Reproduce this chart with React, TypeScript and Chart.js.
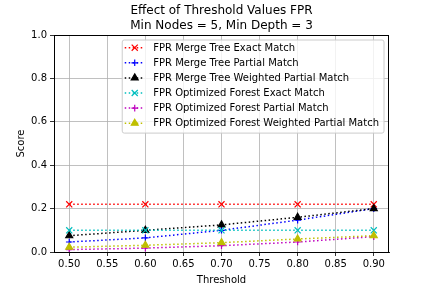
import React, { useEffect, useRef } from "react";
import { Chart, registerables } from "chart.js";
import { drawPoint } from "chart.js/helpers";

Chart.register(...registerables);

const thresholds = [0.5, 0.6, 0.7, 0.8, 0.9];
const mergeExact = [0.22, 0.22, 0.22, 0.22, 0.22];
const mergePartial = [0.046, 0.065, 0.1, 0.147, 0.2];
const mergeWeighted = [0.075, 0.1, 0.125, 0.16, 0.2];
const forestExact = [0.1, 0.1, 0.1, 0.1, 0.1];
const forestPartial = [0.011, 0.018, 0.029, 0.046, 0.071];
const forestWeighted = [0.022, 0.031, 0.043, 0.06, 0.075];

const seriesLabels = [
  "FPR Merge Tree Exact Match",
  "FPR Merge Tree Partial Match",
  "FPR Merge Tree Weighted Partial Match",
  "FPR Optimized Forest Exact Match",
  "FPR Optimized Forest Partial Match",
  "FPR Optimized Forest Weighted Partial Match",
];
const seriesValues = [mergeExact, mergePartial, mergeWeighted, forestExact, forestPartial, forestWeighted];
const seriesColors = ["#ff0000", "#0000ff", "#000000", "#00bfbf", "#bf00bf", "#bfbf00"];
const seriesMarkers = ["crossRot", "cross", "triangle", "crossRot", "cross", "triangle"];

const xTicks = [0.5, 0.55, 0.6, 0.65, 0.7, 0.75, 0.8, 0.85, 0.9];
const yTicks = [0, 0.2, 0.4, 0.6, 0.8, 1.0];
const titleLines = ["Effect of Threshold Values FPR", "Min Nodes = 5, Min Depth = 3"];
const xLabel = "Threshold";
const yLabel = "Score";

const FONT = "'DejaVu Sans', sans-serif";

function markerRadius(style: string) {
  if (style === "crossRot") return 4.3;
  if (style === "cross") return 3.3;
  return 4;
}

const decorPlugin = {
  id: "decor",
  afterDatasetsDraw(chart: any) {
    const { ctx, chartArea } = chart;
    ctx.save();
    ctx.strokeStyle = "#000";
    ctx.lineWidth = 1;
    ctx.strokeRect(chartArea.left + 0.5, chartArea.top + 0.5, chartArea.right - chartArea.left - 1, chartArea.bottom - chartArea.top);
    ctx.restore();
  },
  afterDraw(chart: any) {
    const { ctx, chartArea } = chart;
    const cx = (chartArea.left + chartArea.right) / 2;
    ctx.save();
    // title
    ctx.fillStyle = "#000";
    ctx.textAlign = "center";
    ctx.textBaseline = "alphabetic";
    ctx.font = `12px ${FONT}`;
    ctx.fillText(titleLines[0], cx, 14);
    ctx.fillText(titleLines[1], cx, 29);
    // axis labels
    ctx.font = `10px ${FONT}`;
    ctx.fillText(xLabel, cx, 283);
    ctx.save();
    ctx.translate(24, (chartArea.top + chartArea.bottom) / 2);
    ctx.rotate(-Math.PI / 2);
    ctx.fillText(yLabel, 0, 0);
    ctx.restore();

    // legend
    ctx.font = `10px ${FONT}`;
    let maxW = 0;
    for (const l of seriesLabels) maxW = Math.max(maxW, ctx.measureText(l).width);
    const rowH = 15.1;
    const boxRight = chartArea.right - 5;
    const boxTop = chartArea.top + 5;
    const boxW = maxW + 36;
    const boxLeft = boxRight - boxW;
    const boxH = rowH * 6 + 2.5;
    ctx.beginPath();
    const r = 2;
    ctx.moveTo(boxLeft + r, boxTop);
    ctx.arcTo(boxRight, boxTop, boxRight, boxTop + boxH, r);
    ctx.arcTo(boxRight, boxTop + boxH, boxLeft, boxTop + boxH, r);
    ctx.arcTo(boxLeft, boxTop + boxH, boxLeft, boxTop, r);
    ctx.arcTo(boxLeft, boxTop, boxRight, boxTop, r);
    ctx.closePath();
    ctx.fillStyle = "rgba(255,255,255,0.8)";
    ctx.fill();
    ctx.strokeStyle = "#cccccc";
    ctx.lineWidth = 1;
    ctx.stroke();

    seriesLabels.forEach((label, i) => {
      const y = boxTop + 7.7 + i * rowH;
      const hx0 = boxLeft + 2.5;
      const hx1 = hx0 + 20;
      ctx.save();
      ctx.strokeStyle = seriesColors[i];
      ctx.lineWidth = 1.5;
      ctx.setLineDash([1.5, 2.5]);
      ctx.beginPath();
      ctx.moveTo(hx0, y);
      ctx.lineTo(hx1, y);
      ctx.stroke();
      ctx.setLineDash([]);
      ctx.fillStyle = seriesColors[i];
      ctx.strokeStyle = seriesColors[i];
      ctx.lineWidth = 1.2;
      drawPoint(ctx, { pointStyle: seriesMarkers[i] as any, radius: markerRadius(seriesMarkers[i]), rotation: 0, borderWidth: 1.2 } as any, (hx0 + hx1) / 2, y);
      ctx.restore();
      ctx.fillStyle = "#000";
      ctx.textAlign = "left";
      ctx.textBaseline = "middle";
      ctx.fillText(label, hx1 + 8.5, y + 0.5);
    });
    ctx.restore();
  },
};

export default function App() {
  const ref = useRef<HTMLCanvasElement | null>(null);
  useEffect(() => {
    if (!ref.current) return;
    const datasets = seriesLabels.map((label, i) => ({
      label,
      data: thresholds.map((x, j) => ({ x, y: seriesValues[i][j] })),
      borderColor: seriesColors[i],
      backgroundColor: seriesColors[i],
      borderWidth: 1.5,
      borderDash: [1.5, 2.5],
      pointStyle: seriesMarkers[i],
      pointRadius: markerRadius(seriesMarkers[i]),
      pointBorderWidth: 1.2,
      pointBorderColor: seriesColors[i],
      pointBackgroundColor: seriesColors[i],
      fill: false,
      tension: 0,
      order: -i,
    }));
    const chart = new Chart(ref.current, {
      type: "line",
      data: { datasets },
      options: {
        animation: false,
        responsive: false,
        devicePixelRatio: 1,
        layout: { padding: { top: 35, right: 43, left: 0, bottom: 0 } },
        plugins: { legend: { display: false }, title: { display: false }, tooltip: { enabled: false } },
        scales: {
          x: {
            type: "linear",
            min: 0.48,
            max: 0.92,
            afterBuildTicks: (axis: any) => {
              axis.ticks = xTicks.map((v) => ({ value: v }));
            },
            afterFit: (s: any) => {
              s.height = 36;
            },
            ticks: {
              color: "#000",
              font: { family: FONT, size: 10 },
              padding: 2,
              maxRotation: 0,
              autoSkip: false,
              callback: (v: any) => Number(v).toFixed(2),
            },
            grid: { color: "#b0b0b0", lineWidth: 0.8, tickColor: "#000", tickLength: 4 },
            border: { color: "#000", width: 1 },
          },
          y: {
            type: "linear",
            min: 0,
            max: 1,
            afterBuildTicks: (axis: any) => {
              axis.ticks = yTicks.map((v) => ({ value: v }));
            },
            afterFit: (s: any) => {
              s.width = 54;
            },
            ticks: {
              color: "#000",
              font: { family: FONT, size: 10 },
              padding: 3,
              autoSkip: false,
              callback: (v: any) => Number(v).toFixed(1),
            },
            grid: { color: "#b0b0b0", lineWidth: 0.8, tickColor: "#000", tickLength: 4 },
            border: { color: "#000", width: 1 },
          },
        },
      },
      plugins: [decorPlugin],
    } as any);
    return () => chart.destroy();
  }, []);
  return (
    <div style={{ position: "absolute", left: 0, top: 0, width: 432, height: 288, background: "#fff" }}>
      <canvas ref={ref} width={432} height={288} />
    </div>
  );
}
